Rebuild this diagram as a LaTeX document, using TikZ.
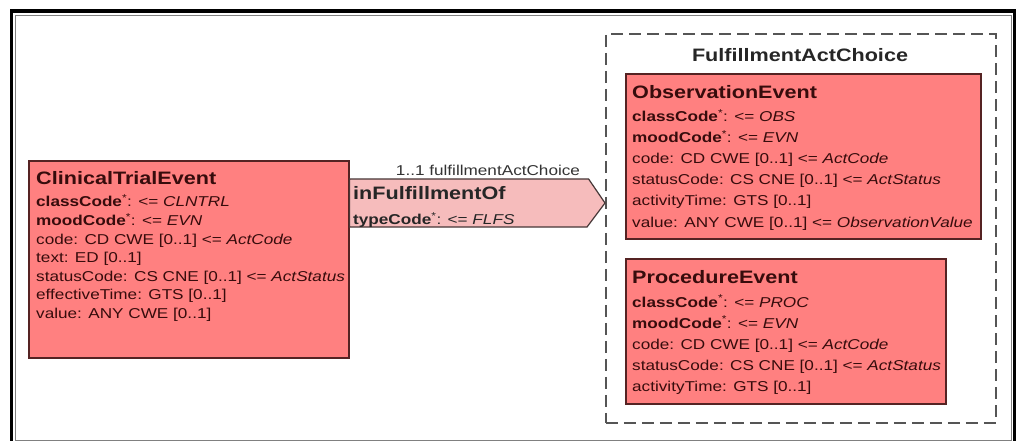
\documentclass[tikz,border=0pt]{standalone}
\usepackage{fontspec}
\setmainfont{Liberation Sans}[FakeStretch=1.2]
\usetikzlibrary{calc}

\definecolor{clsfill}{RGB}{255,128,128}
\definecolor{clsline}{RGB}{85,35,35}
\definecolor{clstext}{RGB}{55,12,12}
\definecolor{assocfill}{RGB}{246,188,188}
\definecolor{assocline}{RGB}{70,55,55}
\definecolor{dashgray}{RGB}{85,85,85}

\newcommand{\mandattr}[1]{\textbf{#1}\textsuperscript{*}}

\begin{document}
\begin{tikzpicture}[
        x=1pt, y=-1pt,
        cls/.style={draw=clsline, fill=clsfill, line width=1.6pt, rectangle, anchor=north west, inner sep=0pt},
        clsname/.style={anchor=base west, inner sep=0pt, font=\fontsize{18}{20}\selectfont\bfseries, text=clstext},
        attr/.style={anchor=base west, inner sep=0pt, font=\fontsize{14.3}{17}\selectfont, text=clstext},
        choicebox/.style={draw=dashgray, dash pattern=on 12pt off 6pt, line width=1.6pt, rectangle, anchor=north west, inner sep=0pt},
        choicetitle/.style={inner sep=0pt, font=\fontsize{18}{20}\selectfont\bfseries, text=black!85},
        assocband/.style={draw=assocline, fill=assocfill, line width=1.2pt},
        rolelbl/.style={inner sep=0pt, font=\fontsize{14.3}{17}\selectfont, text=black!80}
    ]
    \useasboundingbox (0,0) rectangle (1018,441);

    % frame
    \draw[line width=3.5pt] (11.5,441) -- (11.5,11) -- (1014.5,11) -- (1014.5,441);
    \draw[gray, line width=1pt] (15.5,15.5) rectangle (1011.5,440);

    % choice box
    \node[choicebox, minimum width=390pt, minimum height=389pt] (choice) at (605,33) {};
    \node[choicetitle] (fac) at (800,55) {FulfillmentActChoice};

    % ClinicalTrialEvent
    \node[cls, minimum width=320pt, minimum height=197pt] (cte) at (28,160) {};
    \node[clsname] (cteName) at ($(cte.north west)+(8,24.5)$) {ClinicalTrialEvent};
    \foreach \txt [count=\i from 0] in {
        {\mandattr{classCode}: <= \textit{CLNTRL}},
        {\mandattr{moodCode}: <= \textit{EVN}},
        {code: CD CWE [0..1] <= \textit{ActCode}},
        {text: ED [0..1]},
        {statusCode: CS CNE [0..1] <= \textit{ActStatus}},
        {effectiveTime: GTS [0..1]},
        {value: ANY CWE [0..1]}}
        \node[attr] (cte-\i) at ($(cte.north west)+(8,47+18.5*\i)$) {\txt};

    % ObservationEvent
    \node[cls, minimum width=355pt, minimum height=165pt] (obs) at (625,73) {};
    \node[clsname] (obsName) at ($(obs.north west)+(7,25.5)$) {ObservationEvent};
    \foreach \txt [count=\i from 0] in {
        {\mandattr{classCode}: <= \textit{OBS}},
        {\mandattr{moodCode}: <= \textit{EVN}},
        {code: CD CWE [0..1] <= \textit{ActCode}},
        {statusCode: CS CNE [0..1] <= \textit{ActStatus}},
        {activityTime: GTS [0..1]},
        {value: ANY CWE [0..1] <= \textit{ObservationValue}}}
        \node[attr] (obs-\i) at ($(obs.north west)+(7,49+21*\i)$) {\txt};

    % ProcedureEvent
    \node[cls, minimum width=320pt, minimum height=145pt] (proc) at (625,258) {};
    \node[clsname] (procName) at ($(proc.north west)+(7,25.5)$) {ProcedureEvent};
    \foreach \txt [count=\i from 0] in {
        {\mandattr{classCode}: <= \textit{PROC}},
        {\mandattr{moodCode}: <= \textit{EVN}},
        {code: CD CWE [0..1] <= \textit{ActCode}},
        {statusCode: CS CNE [0..1] <= \textit{ActStatus}},
        {activityTime: GTS [0..1]}}
        \node[attr] (proc-\i) at ($(proc.north west)+(7,49+21*\i)$) {\txt};

    % association
    \path[assocband] (cte.east |- 0,179) -- ++(239,0) -- (choice.west |- 0,203)
        -- ++(-18,24) -- (cte.east |- 0,227) -- cycle;
    \node[rolelbl] (role) at (488,170) {1..1 fulfillmentActChoice};
    \node[clsname, text=black!85] (ifo) at (353,199.5) {inFulfillmentOf};
    \node[attr, text=black!85] (ifoType) at (353,225) {\mandattr{typeCode}: <= \textit{FLFS}};

\end{tikzpicture}
\end{document}
